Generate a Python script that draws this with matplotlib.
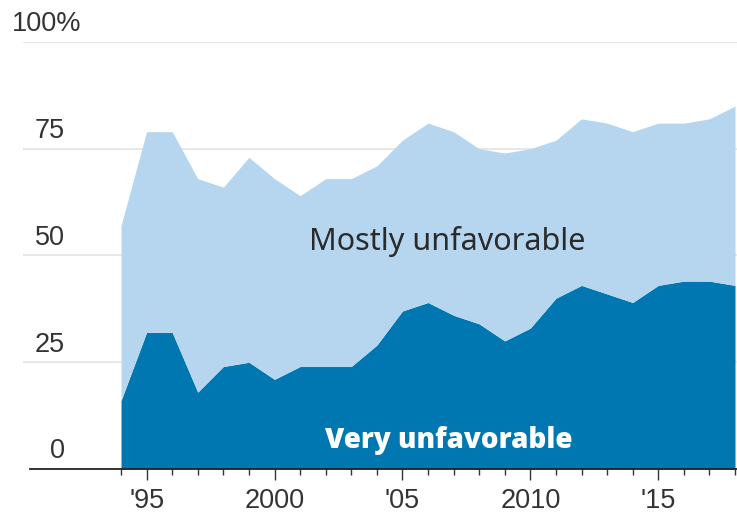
import numpy as np
import matplotlib
matplotlib.use("Agg")
import matplotlib.pyplot as plt
from matplotlib.ticker import FixedLocator, FixedFormatter

years = list(range(1994, 2019))

# share of respondents, percent
very_unfav = [16, 32, 32, 18, 24, 25, 21, 24, 24, 24, 29, 37, 39,
              36, 34, 30, 33, 40, 43, 41, 39, 43, 44, 44, 43]
total_unfav = [57, 79, 79, 68, 66, 73, 68, 64, 68, 68, 71, 77, 81,
               79, 75, 74, 75, 77, 82, 81, 79, 81, 81, 82, 85]

ytick_vals = [0, 25, 50, 75, 100]
ytick_text = ["0", "25", "50", "75", "100%"]
xtick_vals = [1995, 2000, 2005, 2010, 2015]
xtick_text = ["'95", "2000", "'05", "2010", "'15"]

dark_blue = "#0077b1"
light_blue = "#b6d6f0"
text_col = "#333333"

W, H = 737, 513
fig = plt.figure(figsize=(W / 100, H / 100), dpi=100)

# axes box in pixels
left_px, right_px, bottom_px, top_px = 23, 737, 469, 42
ax = fig.add_axes([left_px / W, 1 - bottom_px / H,
                   (right_px - left_px) / W, (bottom_px - top_px) / H])

px_per_year = (735 - 121) / 24
ax.set_xlim(1994 - (121 - left_px) / px_per_year, 2018 + 2 / px_per_year)
ax.set_ylim(0, 100)

x = np.array(years)
ax.fill_between(x, 0, very_unfav, color=dark_blue, lw=0, zorder=2)
ax.fill_between(x, very_unfav, total_unfav, color=light_blue, lw=0, zorder=2)

# gridlines
for v in ytick_vals[1:]:
    ax.axhline(v, color="#e3e3e3", lw=1.2, zorder=1)

# y labels sit above their gridlines, right-aligned
lab_x = (65 - left_px) / (right_px - left_px)
for v, t in zip(ytick_vals, ytick_text):
    ax.text(lab_x if t != "100%" else (12 - left_px) / (right_px - left_px),
            v + 2.5, t, transform=ax.get_yaxis_transform(),
            ha="right" if t != "100%" else "left", va="baseline",
            fontsize=19.5, color=text_col, family="Liberation Sans",
            clip_on=False)

for s in ["top", "right", "left"]:
    ax.spines[s].set_visible(False)
ax.spines["bottom"].set_color("#222222")
ax.spines["bottom"].set_linewidth(1.3)
ax.spines["bottom"].set_bounds(ax.get_xlim()[0] + 7 / px_per_year, ax.get_xlim()[1])
ax.spines["bottom"].set_zorder(3)

ax.set_yticks([])
ax.xaxis.set_major_locator(FixedLocator(xtick_vals))
ax.xaxis.set_major_formatter(FixedFormatter(xtick_text))
ax.xaxis.set_minor_locator(FixedLocator(years))
ax.tick_params(axis="x", which="major", length=8, width=1, color="#333333",
               pad=6, labelsize=19.5, labelcolor=text_col)
ax.tick_params(axis="x", which="minor", length=4.3, width=1, color="#333333")
for lbl in ax.get_xticklabels():
    lbl.set_family("Liberation Sans")

ax.text(2006.74, 51.3, "Mostly unfavorable", ha="center", va="baseline",
        fontsize=22, color="#2a2a2a", family="Noto Sans")
ax.text(2006.8, 4.9, "Very unfavorable", ha="center", va="baseline",
        fontsize=20, color="white", family="Open Sans", weight=800)

fig.savefig("out.png", dpi=100)
